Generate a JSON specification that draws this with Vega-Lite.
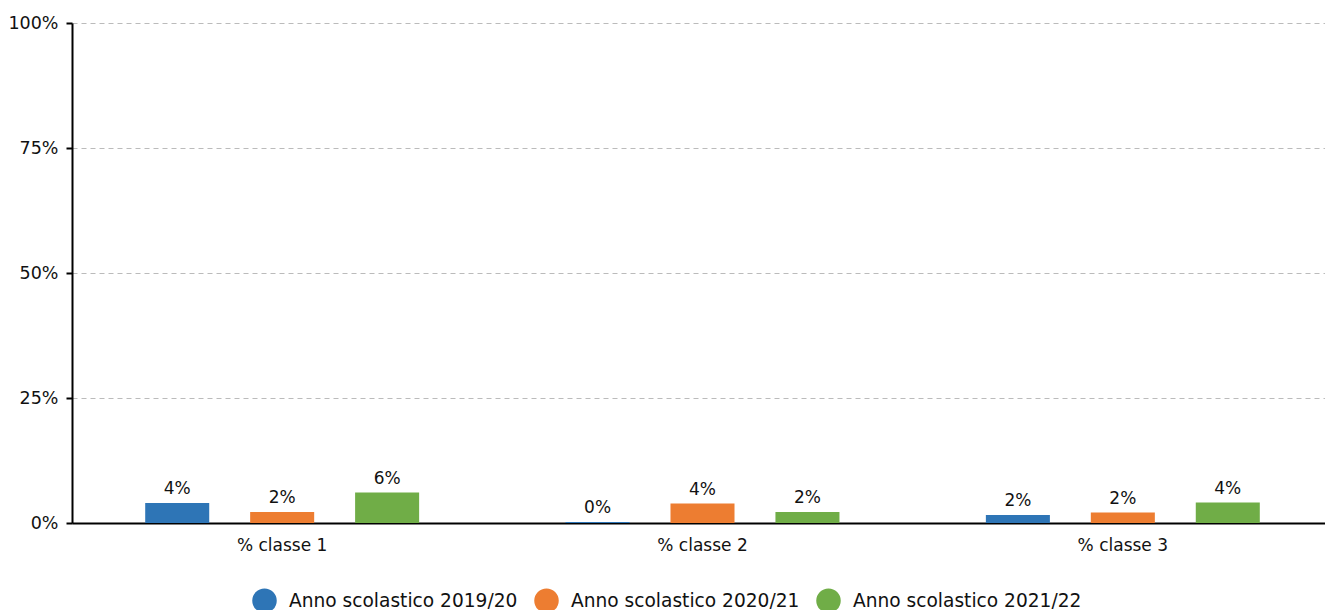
{
  "$schema": "https://vega.github.io/schema/vega-lite/v6.json",
  "autosize": {"type": "none"},
  "padding": {"left": 72, "top": 23, "right": 0, "bottom": 87},
  "width": 1261,
  "height": 500,
  "background": "white",
  "config": {
    "font": "DejaVu Sans",
    "view": {"stroke": null}
  },
  "data": {
    "values": [
      {"categoria": "% classe 1", "anno": "Anno scolastico 2019/20", "valore": 0.040},
      {"categoria": "% classe 1", "anno": "Anno scolastico 2020/21", "valore": 0.022},
      {"categoria": "% classe 1", "anno": "Anno scolastico 2021/22", "valore": 0.061},
      {"categoria": "% classe 2", "anno": "Anno scolastico 2019/20", "valore": 0.002},
      {"categoria": "% classe 2", "anno": "Anno scolastico 2020/21", "valore": 0.039},
      {"categoria": "% classe 2", "anno": "Anno scolastico 2021/22", "valore": 0.022},
      {"categoria": "% classe 3", "anno": "Anno scolastico 2019/20", "valore": 0.016},
      {"categoria": "% classe 3", "anno": "Anno scolastico 2020/21", "valore": 0.021},
      {"categoria": "% classe 3", "anno": "Anno scolastico 2021/22", "valore": 0.041}
    ]
  },
  "encoding": {
    "x": {
      "field": "categoria",
      "type": "nominal",
      "scale": {"paddingInner": 0, "paddingOuter": 0},
      "axis": {
        "title": null,
        "labelAngle": 0,
        "labelFontSize": 17,
        "labelColor": "#111",
        "labelPadding": 14,
        "ticks": false,
        "domainColor": "#000",
        "domainWidth": 2,
        "grid": false
      }
    },
    "xOffset": {
      "field": "anno",
      "type": "nominal",
      "scale": {"paddingInner": 0.39, "paddingOuter": 0.6975}
    }
  },
  "layer": [
    {
      "mark": {"type": "bar"},
      "encoding": {
        "y": {
          "field": "valore",
          "type": "quantitative",
          "scale": {"domain": [0, 1]},
          "axis": {
            "title": null,
            "format": ".0%",
            "values": [0, 0.25, 0.5, 0.75, 1],
            "labelFontSize": 17.5,
            "labelColor": "#111",
            "labelPadding": 8,
            "tickColor": "#000",
            "tickWidth": 2,
            "tickSize": 6,
            "domainColor": "#000",
            "domainWidth": 2,
            "gridColor": "#bbbbbb",
            "gridDash": [5, 4],
            "gridWidth": 1
          }
        },
        "color": {
          "field": "anno",
          "type": "nominal",
          "scale": {"range": ["#2E75B6", "#ED7D31", "#70AD47"]},
          "legend": {
            "title": null,
            "orient": "none",
            "direction": "horizontal",
            "legendX": 180,
            "legendY": 565,
            "symbolType": "circle",
            "symbolSize": 600,
            "symbolOpacity": 1,
            "symbolStrokeWidth": 0,
            "labelFontSize": 18.6,
            "labelColor": "#111",
            "labelOffset": 12,
            "columnPadding": 16,
            "labelLimit": 400
          }
        }
      }
    },
    {
      "mark": {"type": "text", "dy": -5, "fontSize": 17, "color": "#111", "baseline": "bottom"},
      "encoding": {
        "y": {"field": "valore", "type": "quantitative"},
        "text": {"field": "valore", "type": "quantitative", "format": ".0%"}
      }
    }
  ]
}
